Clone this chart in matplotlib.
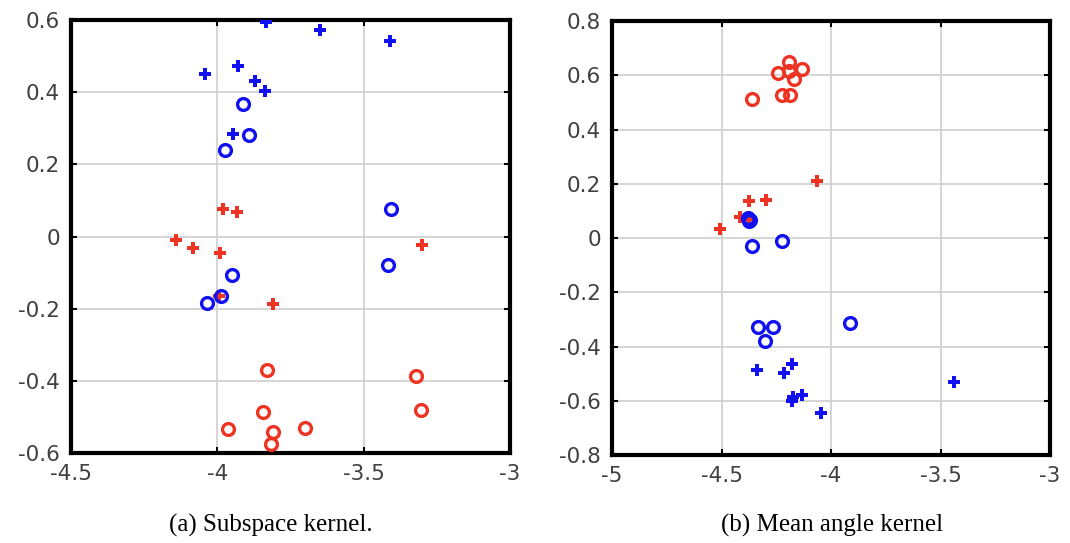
import matplotlib.pyplot as plt
import numpy as np

# (a) subspace kernel
a_blue_plus_x = [-3.834, -3.649, -3.410, -4.042, -3.928, -3.871, -3.837, -3.945]
a_blue_plus_y = [0.595, 0.572, 0.543, 0.450, 0.473, 0.431, 0.404, 0.284]
a_blue_circ_x = [-3.911, -3.891, -3.973, -3.407, -3.416, -3.949, -3.989, -4.034]
a_blue_circ_y = [0.366, 0.281, 0.239, 0.076, -0.079, -0.106, -0.166, -0.185]
a_red_plus_x = [-3.980, -3.932, -4.141, -4.084, -3.991, -3.301, -3.811, -3.995]
a_red_plus_y = [0.076, 0.067, -0.009, -0.032, -0.045, -0.024, -0.188, -0.165]
a_red_circ_x = [-3.831, -3.322, -3.845, -3.305, -3.964, -3.809, -3.701, -3.817]
a_red_circ_y = [-0.370, -0.386, -0.485, -0.480, -0.534, -0.542, -0.531, -0.575]

# (b) mean angle kernel
b_red_circ_x = [-4.190, -4.241, -4.134, -4.190, -4.169, -4.225, -4.187, -4.361]
b_red_circ_y = [0.648, 0.609, 0.623, 0.617, 0.585, 0.528, 0.528, 0.513]
b_red_plus_x = [-4.065, -4.376, -4.297, -4.416, -4.505, -4.376]
b_red_plus_y = [0.210, 0.136, 0.139, 0.076, 0.035, 0.072]
b_blue_circ_x = [-4.380, -4.370, -4.375, -4.361, -4.222, -4.332, -4.263, -4.301, -3.913]
b_blue_circ_y = [0.075, 0.068, 0.064, -0.029, -0.011, -0.328, -0.328, -0.380, -0.312]
b_blue_plus_x = [-4.336, -4.179, -4.213, -4.172, -4.134, -4.177, -4.047, -3.437]
b_blue_plus_y = [-0.485, -0.466, -0.496, -0.586, -0.579, -0.599, -0.645, -0.531]

a_xticks = [-4.5, -4, -3.5, -3]
a_yticks = [-0.6, -0.4, -0.2, 0, 0.2, 0.4, 0.6]
b_xticks = [-5, -4.5, -4, -3.5, -3]
b_yticks = [-0.8, -0.6, -0.4, -0.2, 0, 0.2, 0.4, 0.6, 0.8]

BLUE = "#1010f0"
RED = "#ee3322"

fig = plt.figure(figsize=(10.7, 5.43), dpi=100)
ax1 = fig.add_axes([0.0664, 0.1657, 0.4103, 0.7974])
ax2 = fig.add_axes([0.572, 0.162, 0.4093, 0.799])

def style(ax, xlim, ylim, xt, yt):
    ax.set_xlim(*xlim)
    ax.set_ylim(*ylim)
    ax.set_xticks(xt)
    ax.set_yticks(yt)
    ax.set_xticklabels(["%g" % v for v in xt], family="DejaVu Sans")
    ax.set_yticklabels(["%g" % v for v in yt], family="DejaVu Sans")
    ax.grid(True, color="#d2d2d2", linewidth=1.3)
    ax.set_axisbelow(True)
    for s in ax.spines.values():
        s.set_linewidth(3)
        s.set_color("black")
    ax.tick_params(direction="in", length=4, width=1.5, top=True, right=True,
                   labelsize=15.5, labelcolor="#404040", pad=8)

def plus(ax, x, y, c):
    ax.plot(x, y, linestyle="none", marker="P", markersize=9, color=c,
            markeredgewidth=0, zorder=3)

def circ(ax, x, y, c):
    ax.plot(x, y, linestyle="none", marker="o", markersize=8.5, markerfacecolor="none",
            markeredgecolor=c, markeredgewidth=2.4, zorder=4)

plus(ax1, a_red_plus_x, a_red_plus_y, RED)
plus(ax1, a_blue_plus_x, a_blue_plus_y, BLUE)
circ(ax1, a_blue_circ_x, a_blue_circ_y, BLUE)
circ(ax1, a_red_circ_x, a_red_circ_y, RED)
style(ax1, (-4.5, -3), (-0.6, 0.6), a_xticks, a_yticks)

plus(ax2, b_red_plus_x, b_red_plus_y, RED)
plus(ax2, b_blue_plus_x, b_blue_plus_y, BLUE)
circ(ax2, b_blue_circ_x, b_blue_circ_y, BLUE)
circ(ax2, b_red_circ_x, b_red_circ_y, RED)
style(ax2, (-5, -3), (-0.8, 0.8), b_xticks, b_yticks)

fig.text(0.2535, 0.033, "(a) Subspace kernel.", ha="center", va="center",
         fontsize=18, family="Liberation Serif")
fig.text(0.7775, 0.033, "(b) Mean angle kernel", ha="center", va="center",
         fontsize=18, family="Liberation Serif")

fig.savefig("out.png", dpi=100)
